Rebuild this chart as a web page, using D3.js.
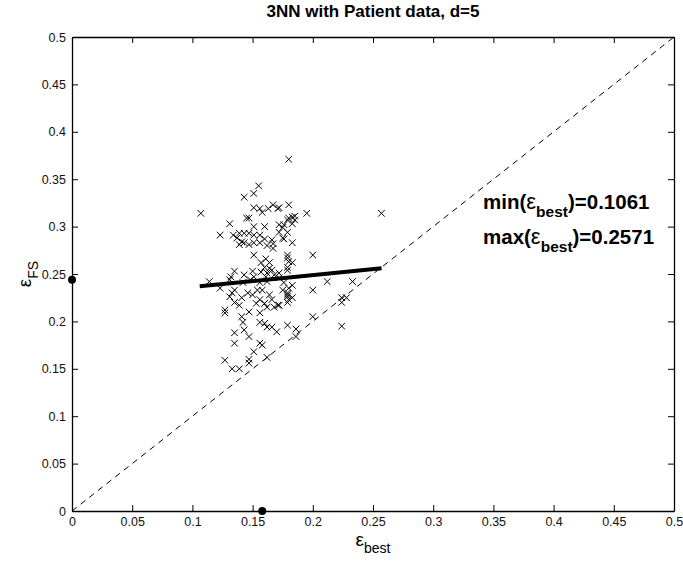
<!DOCTYPE html>
<html lang="en">
<head>
<meta charset="utf-8">
<script src="https://cdnjs.cloudflare.com/ajax/libs/d3/7.8.5/d3.min.js"></script>
<style>
  body { margin: 0; background: #fff; }
  svg { font-family: "Liberation Sans", Arial, Helvetica, sans-serif; }
</style>
</head>
<body>
<svg id="chart"></svg>
<script>
// chart data
var epsBest = [0.180,0.107,0.155,0.151,0.143,0.151,0.156,0.158,0.163,0.167,0.171,0.180,0.185,0.145,0.147,
  0.180,0.131,0.160,0.151,0.123,0.134,0.139,0.143,0.147,0.151,0.156,0.160,0.137,0.141,0.139,
  0.143,0.147,0.151,0.156,0.166,0.167,0.162,0.167,0.172,0.176,0.179,0.185,0.172,0.179,0.175,
  0.183,0.151,0.157,0.161,0.164,0.160,0.164,0.157,0.162,0.166,0.168,0.161,0.179,0.180,0.179,
  0.135,0.132,0.131,0.143,0.150,0.151,0.148,0.156,0.114,0.123,0.162,0.142,0.172,0.176,0.183,
  0.180,0.131,0.133,0.135,0.135,0.139,0.127,0.127,0.141,0.146,0.150,0.154,0.158,0.156,0.160,
  0.153,0.164,0.166,0.162,0.168,0.171,0.179,0.180,0.147,0.141,0.142,0.156,0.156,0.160,0.162,
  0.166,0.170,0.179,0.186,0.186,0.135,0.135,0.143,0.147,0.156,0.158,0.151,0.127,0.147,0.147,
  0.162,0.133,0.139,0.172,0.195,0.257,0.183,0.183,0.175,0.176,0.179,0.200,0.183,0.179,0.172,
  0.175,0.179,0.179,0.183,0.179,0.200,0.212,0.233,0.224,0.228,0.224,0.200,0.172,0.224];
var epsFS = [0.371,0.314,0.343,0.335,0.331,0.320,0.319,0.315,0.319,0.323,0.319,0.323,0.311,0.309,0.309,
  0.309,0.303,0.300,0.300,0.291,0.291,0.293,0.293,0.293,0.291,0.291,0.287,0.288,0.284,0.281,
  0.283,0.281,0.283,0.283,0.286,0.282,0.280,0.277,0.302,0.302,0.307,0.307,0.294,0.294,0.288,
  0.283,0.270,0.262,0.266,0.262,0.257,0.256,0.252,0.251,0.254,0.249,0.247,0.270,0.263,0.254,
  0.253,0.247,0.244,0.249,0.253,0.247,0.244,0.241,0.242,0.235,0.242,0.241,0.246,0.241,0.238,
  0.235,0.226,0.230,0.233,0.220,0.217,0.212,0.209,0.225,0.230,0.228,0.233,0.233,0.223,0.219,
  0.219,0.228,0.223,0.215,0.215,0.217,0.228,0.223,0.210,0.205,0.199,0.209,0.199,0.198,0.194,
  0.194,0.189,0.196,0.192,0.184,0.188,0.177,0.191,0.184,0.177,0.175,0.168,0.159,0.160,0.156,
  0.162,0.150,0.150,0.320,0.314,0.314,0.310,0.303,0.299,0.287,0.267,0.270,0.262,0.257,0.251,
  0.233,0.230,0.226,0.225,0.220,0.233,0.242,0.242,0.225,0.225,0.220,0.205,0.217,0.195];

// fitted line end points, mean markers and annotation values
var fitX = [0.1061, 0.2571];
var fitY = [0.237, 0.256];
var meanBest = 0.158;
var meanFS = 0.244;
var minBest = "0.1061";
var maxBest = "0.2571";

var ticks = [0, 0.05, 0.1, 0.15, 0.2, 0.25, 0.3, 0.35, 0.4, 0.45, 0.5];
var tickLabels = ["0", "0.05", "0.1", "0.15", "0.2", "0.25", "0.3", "0.35", "0.4", "0.45", "0.5"];

var width = 683, height = 566;
var margin = {left: 72, right: 9, top: 37, bottom: 55};

var svg = d3.select("#chart").attr("width", width).attr("height", height);

var x = d3.scaleLinear().domain([0, 0.5]).range([margin.left, width - margin.right]);
var y = d3.scaleLinear().domain([0, 0.5]).range([height - margin.bottom, margin.top]);

function fmt(d) { return tickLabels[ticks.indexOf(d)]; }

// axes, ticks pointing inward like matlab
svg.append("g")
  .attr("transform", "translate(0," + y(0) + ")")
  .call(d3.axisBottom(x).tickValues(ticks).tickFormat(fmt).tickSizeInner(-6).tickSizeOuter(0).tickPadding(6));
svg.append("g")
  .attr("transform", "translate(0," + y(0.5) + ")")
  .call(d3.axisTop(x).tickValues(ticks).tickFormat("").tickSizeInner(-6).tickSizeOuter(0));
svg.append("g")
  .attr("transform", "translate(" + x(0) + ",0)")
  .call(d3.axisLeft(y).tickValues(ticks).tickFormat(fmt).tickSizeInner(-6).tickSizeOuter(0).tickPadding(6));
svg.append("g")
  .attr("transform", "translate(" + x(0.5) + ",0)")
  .call(d3.axisRight(y).tickValues(ticks).tickFormat("").tickSizeInner(-6).tickSizeOuter(0));

svg.selectAll(".domain").attr("stroke", "#000").attr("stroke-width", 1.3);
svg.selectAll(".tick line").attr("stroke", "#000");
svg.selectAll(".tick text").attr("font-size", 12.5).attr("fill", "#111")
  .attr("font-family", "'Liberation Sans', Arial, sans-serif");

// diagonal reference line
svg.append("line")
  .attr("x1", x(0)).attr("y1", y(0))
  .attr("x2", x(0.5)).attr("y2", y(0.5))
  .attr("stroke", "#000").attr("stroke-width", 1)
  .attr("stroke-dasharray", "6,5");

// scatter x markers
var pts = epsBest.map(function(d, i) { return [d, epsFS[i]]; });
var s = 3.3;
svg.append("g").selectAll("path")
  .data(pts)
  .enter()
  .append("path")
  .attr("d", function(d) {
    var cx = x(d[0]), cy = y(d[1]);
    return "M" + (cx - s) + "," + (cy - s) + "L" + (cx + s) + "," + (cy + s) +
           "M" + (cx - s) + "," + (cy + s) + "L" + (cx + s) + "," + (cy - s);
  })
  .attr("stroke", "#000").attr("stroke-width", 1).attr("fill", "none");

// fitted line
svg.append("line")
  .attr("x1", x(fitX[0])).attr("y1", y(fitY[0]))
  .attr("x2", x(fitX[1])).attr("y2", y(fitY[1]))
  .attr("stroke", "#000").attr("stroke-width", 4);

// mean markers on the axes
svg.append("circle").attr("cx", x(0)).attr("cy", y(meanFS)).attr("r", 4).attr("fill", "#000");
svg.append("circle").attr("cx", x(meanBest)).attr("cy", y(0)).attr("r", 4).attr("fill", "#000");

// title
svg.append("text")
  .attr("x", (x(0) + x(0.5)) / 2).attr("y", 17)
  .attr("text-anchor", "middle")
  .attr("font-size", 17).attr("font-weight", "bold")
  .text("3NN with Patient data, d=5");

// x label
var xl = svg.append("text")
  .attr("x", (x(0) + x(0.5)) / 2).attr("y", 546)
  .attr("text-anchor", "middle")
  .attr("font-size", 19);
xl.append("tspan").text("ε");
xl.append("tspan").attr("font-size", 14).attr("dy", 7).text("best");

// y label
var yl = svg.append("text")
  .attr("transform", "translate(31," + y(0.25) + ") rotate(-90)")
  .attr("text-anchor", "middle")
  .attr("font-size", 19);
yl.append("tspan").text("ε");
yl.append("tspan").attr("font-size", 14).attr("dy", 7).text("FS");

// min / max annotation
function note(ty, label, val) {
  var t = svg.append("text")
    .attr("x", 483).attr("y", ty)
    .attr("font-size", 20.5).attr("font-weight", "bold");
  t.append("tspan").text(label + "(");
  t.append("tspan").attr("font-weight", "normal").attr("font-size", 22).text("ε");
  t.append("tspan").attr("font-size", 15.5).attr("dy", 8).text("best");
  t.append("tspan").attr("dy", -8).text(")=" + val);
}
note(209, "min", minBest);
note(244, "max", maxBest);
</script>
</body>
</html>
